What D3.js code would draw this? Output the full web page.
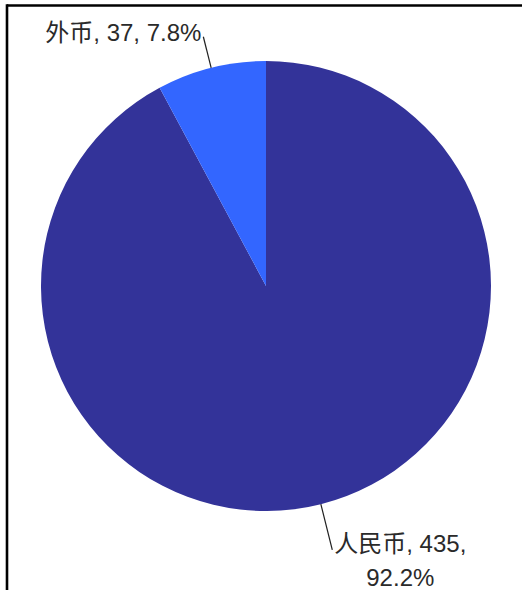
<!DOCTYPE html>
<html>
<head>
<meta charset="utf-8">
<script src="https://cdn.jsdelivr.net/npm/d3@7"></script>
<style>
  body { margin: 0; background: #fff; }
</style>
</head>
<body>
<div id="chart"></div>
<script>
// chart data
const categories = ["人民币", "外币"];
const values = [435, 37];
const colors = ["#333399", "#3366ff"];

const width = 522, height = 590;
const radius = 225;
const cx = 266, cy = 286;
const fontFamily = "'Liberation Sans', Arial, 'Noto Sans CJK SC', sans-serif";

const svg = d3.select("#chart").append("svg")
    .attr("width", width)
    .attr("height", height);

// frame: top and left border only
svg.append("line")
    .attr("x1", 7).attr("x2", width).attr("y1", 5.5).attr("y2", 5.5)
    .attr("stroke", "#000").attr("stroke-width", 2.6);
svg.append("line")
    .attr("x1", 7).attr("x2", 7).attr("y1", 4.2).attr("y2", height)
    .attr("stroke", "#000").attr("stroke-width", 2.6);

const total = d3.sum(values);
const pctFmt = d3.format(".1%");

const pie = d3.pie().sort(null).value(d => d.value);
const arc = d3.arc().innerRadius(0).outerRadius(radius);

const data = categories.map((c, i) => ({ name: c, value: values[i], color: colors[i] }));
const arcs = pie(data);

const g = svg.append("g").attr("transform", "translate(" + cx + "," + cy + ")");

g.selectAll(".slice")
    .data(arcs)
    .join("path")
    .attr("class", "slice")
    .attr("d", arc)
    .attr("fill", d => d.data.color);

// label layout: leader length, first baseline offset from leader end, line breaks
const lineGap = 34;
const labelCfg = [
    { lead: 47, dx: 68, dy: 2, lines: d => [d.data.name + ", " + d.data.value + ",", pctFmt(d.data.value / total)] },
    { lead: 32, dx: -80, dy: 4.5, lines: d => [d.data.name + ", " + d.data.value + ", " + pctFmt(d.data.value / total)] }
];

arcs.forEach((d, i) => {
    const mid = (d.startAngle + d.endAngle) / 2;
    const sx = Math.sin(mid), sy = -Math.cos(mid);
    const cfg = labelCfg[i];
    const x0 = sx * radius, y0 = sy * radius;
    const x1 = sx * (radius + cfg.lead), y1 = sy * (radius + cfg.lead);

    g.append("line")
        .attr("x1", x0).attr("y1", y0)
        .attr("x2", x1).attr("y2", y1)
        .attr("stroke", "#222").attr("stroke-width", 1.2);

    const text = g.append("text")
        .attr("x", x1 + cfg.dx)
        .attr("y", y1 + cfg.dy)
        .attr("text-anchor", "middle")
        .attr("font-family", fontFamily)
        .attr("font-size", "24px")
        .attr("fill", "#2a2a2a");
    cfg.lines(d).forEach((t, k) => {
        text.append("tspan")
            .attr("x", x1 + cfg.dx)
            .attr("dy", k === 0 ? 0 : lineGap)
            .text(t);
    });
});
</script>
</body>
</html>
